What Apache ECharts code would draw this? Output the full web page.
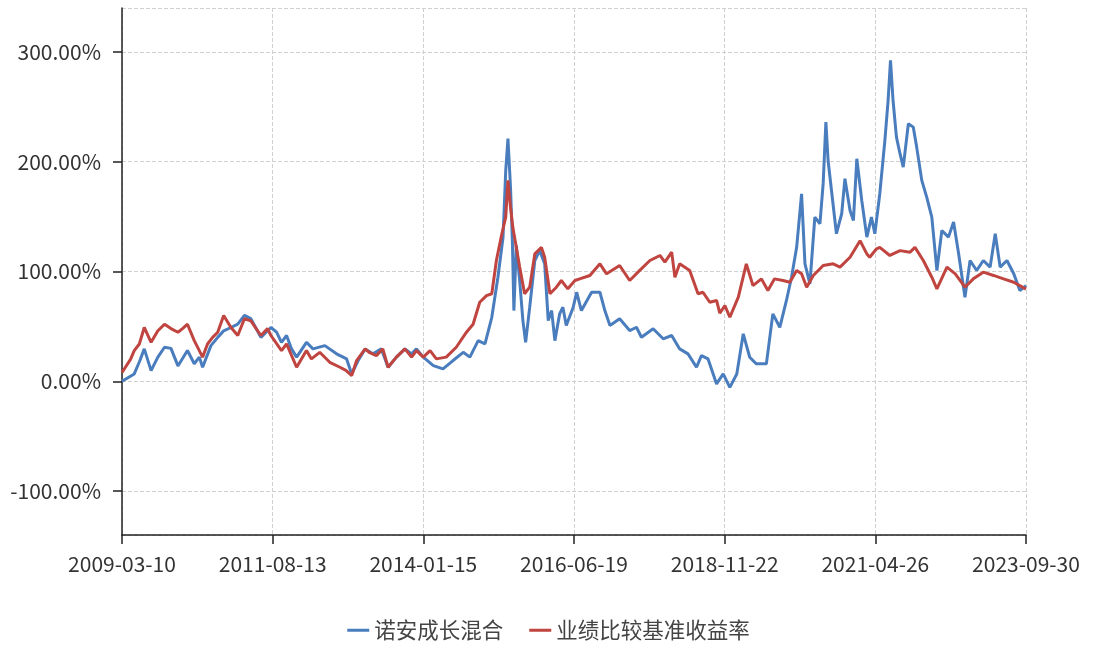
<!DOCTYPE html>
<html>
<head>
<meta charset="utf-8">
<script src="https://cdn.jsdelivr.net/npm/echarts@6/dist/echarts.min.js"></script>
<style>
html,body{margin:0;padding:0;background:#fff;}
#main{width:1097px;height:648px;}
</style>
</head>
<body>
<div id="main"></div>
<script>
const seriesNames = ['诺安成长混合', '业绩比较基准收益率'];
const xTickLabels = ['2009-03-10','2011-08-13','2014-01-15','2016-06-19','2018-11-22','2021-04-26','2023-09-30'];
const startDate = '2009-03-10';
const endDate = '2023-09-30';

const fundDates = ['2009-03-10','2009-05-21','2009-06-21','2009-07-19','2009-08-28','2009-10-07','2009-11-15','2009-12-23','2010-02-02','2010-03-30','2010-05-09','2010-06-08','2010-06-27','2010-08-15','2010-09-24','2010-10-29','2010-12-11','2011-01-20','2011-02-28','2011-04-07','2011-06-05','2011-08-03','2011-09-05','2011-10-04','2011-11-03','2011-12-02','2012-01-01','2012-02-28','2012-04-06','2012-06-15','2012-08-23','2012-10-21','2012-11-20','2012-12-28','2013-02-07','2013-03-25','2013-05-13','2013-06-22','2013-08-10','2013-09-29','2013-11-07','2013-12-06','2014-01-15','2014-03-15','2014-05-11','2014-07-09','2014-09-07','2014-10-16','2014-12-04','2015-01-13','2015-02-22','2015-03-30','2015-04-29','2015-05-15','2015-05-28','2015-06-12','2015-06-23','2015-07-02','2015-07-16','2015-08-05','2015-08-24','2015-09-09','2015-10-03','2015-11-02','2015-12-01','2015-12-30','2016-01-20','2016-02-09','2016-02-28','2016-03-27','2016-04-15','2016-05-05','2016-06-15','2016-07-05','2016-08-02','2016-10-01','2016-11-19','2016-12-18','2017-01-17','2017-03-15','2017-05-13','2017-06-22','2017-07-21','2017-09-28','2017-11-26','2018-01-15','2018-03-03','2018-04-21','2018-06-10','2018-07-09','2018-08-17','2018-10-06','2018-11-14','2018-12-23','2019-02-02','2019-03-12','2019-04-19','2019-05-28','2019-07-26','2019-09-02','2019-10-13','2019-11-21','2019-12-21','2020-01-20','2020-02-18','2020-03-09','2020-04-07','2020-05-06','2020-06-05','2020-06-24','2020-07-10','2020-07-23','2020-08-12','2020-09-10','2020-10-11','2020-10-30','2020-11-29','2020-12-19','2021-01-08','2021-02-06','2021-03-08','2021-04-04','2021-04-24','2021-05-23','2021-06-22','2021-07-11','2021-07-25','2021-08-09','2021-08-29','2021-09-19','2021-10-08','2021-11-07','2021-12-06','2021-12-26','2022-01-25','2022-02-23','2022-03-25','2022-04-24','2022-05-23','2022-07-01','2022-07-31','2022-08-30','2022-10-06','2022-11-05','2022-12-14','2023-01-22','2023-03-03','2023-04-02','2023-05-01','2023-06-10','2023-07-20','2023-08-25','2023-09-30'];
const fundValues = [0,6.7,18,29.5,9.7,22,31,30,14,28,16,22,12.8,32.5,40,46,49,52,60,57,40,49,44.7,35.5,41.7,29.5,22,35.5,29.5,32.5,25,20.4,6.7,18.9,29.5,25,29.5,12.8,22,29.5,25,29.5,22,14.3,11.3,18.9,26.4,22,37,34,58.3,94.8,131,192,221,177,128,64.4,123.7,91.8,55.3,35.5,67.5,110,119,107,55.3,64.4,37,61.4,67.5,50.8,67.5,81.1,64.4,81.1,81.1,64.4,50.8,56.9,46.2,49.2,40.1,47.8,38.7,41.7,29.5,25,12.8,23.4,20.4,-2.4,6.7,-5.5,6.7,43.2,21.9,15.9,15.9,61.4,49.2,73.6,94.8,122,170.8,107,88.8,149.5,143.5,180,236,201,173.8,134.4,152.6,184.5,155.6,146.5,202.7,164.7,131.3,149.5,134.4,170.8,219.4,255.9,292.3,255.9,222.4,207.3,195,234.6,231.5,213.3,183,167.7,149.5,100.9,137.4,131.3,145,116,76.6,110,100.9,110,104,134.4,104,110,97.9,82.7,87.2];

const benchDates = ['2009-03-10','2009-04-29','2009-05-21','2009-06-20','2009-07-19','2009-08-28','2009-10-07','2009-11-15','2009-12-23','2010-02-02','2010-03-01','2010-03-30','2010-05-09','2010-06-27','2010-07-26','2010-08-25','2010-09-24','2010-10-29','2010-12-11','2011-01-20','2011-02-28','2011-04-07','2011-06-05','2011-07-14','2011-08-03','2011-10-04','2011-11-03','2012-01-01','2012-02-28','2012-03-28','2012-05-16','2012-07-14','2012-09-12','2012-10-17','2012-11-20','2012-12-19','2013-02-07','2013-03-06','2013-04-14','2013-05-22','2013-06-22','2013-08-10','2013-09-29','2013-11-07','2013-12-06','2014-01-15','2014-02-24','2014-04-02','2014-05-30','2014-07-28','2014-09-26','2014-11-04','2014-12-13','2015-01-22','2015-02-22','2015-03-21','2015-04-20','2015-05-15','2015-05-28','2015-06-12','2015-06-26','2015-07-16','2015-08-05','2015-09-03','2015-10-03','2015-11-02','2015-12-11','2015-12-30','2016-01-30','2016-03-08','2016-04-06','2016-05-14','2016-06-25','2016-07-23','2016-09-21','2016-11-19','2016-12-28','2017-03-15','2017-05-13','2017-07-11','2017-09-09','2017-11-07','2017-12-06','2018-01-15','2018-02-03','2018-03-03','2018-05-01','2018-06-19','2018-07-18','2018-08-27','2018-10-06','2018-10-25','2018-11-24','2018-12-23','2019-02-11','2019-03-30','2019-05-08','2019-06-27','2019-08-04','2019-09-12','2019-11-01','2019-12-11','2020-01-20','2020-02-18','2020-03-19','2020-04-27','2020-06-24','2020-08-22','2020-10-01','2020-11-29','2021-01-27','2021-03-08','2021-03-25','2021-05-04','2021-05-23','2021-07-21','2021-09-19','2021-11-17','2021-12-16','2022-02-03','2022-03-25','2022-04-24','2022-06-22','2022-08-10','2022-10-06','2022-11-24','2023-01-22','2023-03-23','2023-05-21','2023-07-20','2023-09-30'];
const benchValues = [8,20,28,34,49,35.5,46,52,48,44.7,48,52,37,22,34,40,44.7,60,49,41.7,57,55,41.7,48,41.7,28,34,12.8,28,20.4,26.4,17.3,12.8,10,5.2,18.9,29.5,26,23.4,29.5,12.8,22,29.5,22,28,22,28,20.4,22,31,44.7,52,72,78,79.7,110,132.8,149.5,183,158.6,140,122,104,79.7,85.7,116,122,113,79.7,85.7,91.8,84.2,91.8,93.3,96.4,107,97.9,105.5,91.8,101,110,114.6,108.5,117.6,94.8,107,101,79.7,81.1,72,73.6,62,69,58.3,76.6,107,87.2,93.3,82.7,93.3,91.8,90.2,101,97.9,85.7,96.4,105.5,107,104,113,128,116,113,120.7,122,114.6,119,117.6,122,110,94.8,84.2,104,97.9,85.7,93.3,99.4,96.4,93.3,90.2,84];

function dayOffset(s) {
  const p = s.split('-').map(Number);
  const q = startDate.split('-').map(Number);
  return Math.round((Date.UTC(p[0], p[1] - 1, p[2]) - Date.UTC(q[0], q[1] - 1, q[2])) / 86400000);
}
const totalDays = dayOffset(endDate);
const xInterval = totalDays / (xTickLabels.length - 1);

const fundData = fundDates.map((d, i) => [dayOffset(d), fundValues[i]]);
const benchData = benchDates.map((d, i) => [dayOffset(d), benchValues[i]]);

const FONT = '"Microsoft YaHei", "Noto Sans CJK SC", sans-serif';
const chart = echarts.init(document.getElementById('main'), null, {renderer: 'canvas'});
chart.setOption({
  animation: false,
  backgroundColor: '#fff',
  textStyle: {fontFamily: FONT},
  grid: {left: 122, right: 71, top: 8, bottom: 113, containLabel: false},
  legend: {
    data: seriesNames,
    bottom: 2,
    left: 'center',
    icon: 'rect',
    itemWidth: 22,
    itemHeight: 3,
    itemGap: 26,
    textStyle: {fontSize: 21.5, color: '#444', fontFamily: FONT}
  },
  xAxis: {
    type: 'value',
    min: 0,
    max: totalDays,
    interval: xInterval,
    axisLine: {onZero: false, lineStyle: {color: '#222', width: 1.5}},
    axisTick: {length: 9, lineStyle: {color: '#222', width: 1.5}},
    axisLabel: {
      fontSize: 21, color: '#333', margin: 19, fontFamily: FONT,
      formatter: function (v) { return xTickLabels[Math.round(v / xInterval)] || ''; }
    },
    splitLine: {show: true, lineStyle: {color: '#d0d0d0', type: 'dashed', width: 1}}
  },
  yAxis: {
    type: 'value',
    min: -140,
    max: 340,
    axisLine: {show: true, lineStyle: {color: '#222', width: 1.5}},
    axisTick: {show: true, length: 9, lineStyle: {color: '#222', width: 1.5}},
    axisLabel: {
      fontSize: 21, color: '#333', margin: 21, fontFamily: FONT,
      showMinLabel: false, showMaxLabel: false,
      formatter: function (v) { return v.toFixed(2) + '%'; }
    },
    splitLine: {show: true, lineStyle: {color: '#d0d0d0', type: 'dashed', width: 1}}
  },
  series: [
    {name: seriesNames[0], type: 'line', data: fundData, symbol: 'none', lineStyle: {width: 3, color: '#4a7dbd'}, itemStyle: {color: '#4a7dbd'}},
    {name: seriesNames[1], type: 'line', data: benchData, symbol: 'none', lineStyle: {width: 3, color: '#c0443f'}, itemStyle: {color: '#c0443f'}}
  ]
});
</script>
</body>
</html>
